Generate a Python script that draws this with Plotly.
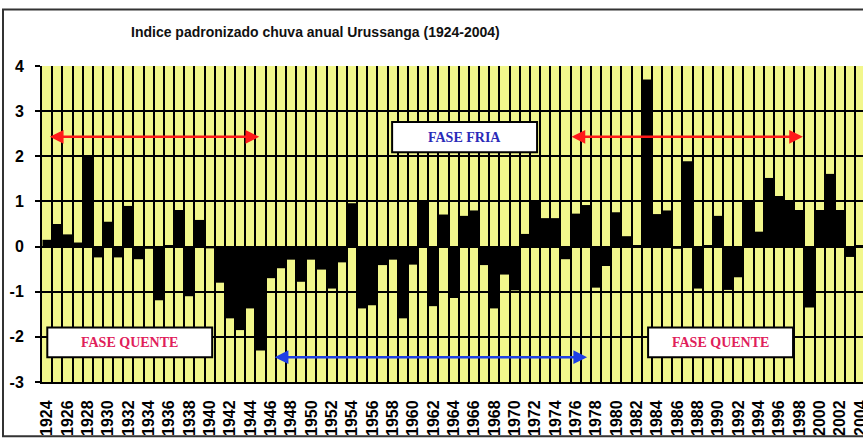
import plotly.graph_objects as go

years = list(range(1924, 2005))
values = [
    0.15, 0.50, 0.27, 0.09, 2.00, -0.24, 0.55, -0.24, 0.90, -0.28,   # 1924-1933
    -0.05, -1.19, 0.03, 0.81, -1.10, 0.59, -0.04, -0.80, -1.59, -1.85,  # 1934-1943
    -1.37, -2.30, -0.70, -0.48, -0.29, -0.78, -0.29, -0.51, -0.93, -0.35,  # 1944-1953
    0.96, -1.37, -1.30, -0.41, -0.29, -1.59, -0.40, 1.00, -1.32, 0.71,   # 1954-1963
    -1.14, 0.68, 0.80, -0.41, -1.37, -0.62, -0.97, 0.28, 1.00, 0.63,   # 1964-1973
    0.63, -0.28, 0.73, 0.92, -0.91, -0.43, 0.76, 0.23, 0.02, 3.70,     # 1974-1983
    0.72, 0.80, -0.05, 1.89, -0.93, 0.03, 0.68, -0.96, -0.68, 1.00,    # 1984-1993
    0.33, 1.52, 1.12, 1.00, 0.81, -1.35, 0.81, 1.61, 0.81, -0.23,      # 1994-2003
    0.03,                                                              # 2004
]
tick_years = list(range(1924, 2005, 2))
tick_labels = [str(y) for y in tick_years]
y_ticks = [4, 3, 2, 1, 0, -1, -2, -3]
title_text = "Indice padronizado chuva anual Urussanga (1924-2004)"

FONT = "Liberation Sans, Arial, sans-serif"
SERIF = "Liberation Serif, Times New Roman, serif"

fig = go.Figure(
    go.Bar(
        x=years,
        y=values,
        width=0.9,
        marker=dict(color="black", line=dict(width=0)),
        hoverinfo="x+y",
    )
)

boundaries = [y - 0.5 for y in years] + [years[-1] + 0.5]

fig.update_layout(
    width=863,
    height=438,
    margin=dict(l=42, r=0, t=66, b=56, autoexpand=False),
    paper_bgcolor="white",
    plot_bgcolor="#F2F78C",
    showlegend=False,
    bargap=0.1,
    font=dict(family=FONT, color="black"),
    xaxis=dict(
        range=[1923.5, 2004.26],
        tickmode="array",
        tickvals=tick_years,
        ticktext=tick_labels,
        tickangle=-90,
        tickfont=dict(family=FONT, size=16, weight=700, color="black"),
        ticklabeloverflow="allow",
        showgrid=False,
        zeroline=False,
        showline=True,
        linecolor="black",
        linewidth=2,
        ticks="",
        ticklabelstandoff=10,
        automargin=False,
        minor=dict(
            tickmode="array",
            tickvals=boundaries,
            showgrid=True,
            gridcolor="black",
            gridwidth=1.6,
            ticks="",
        ),
    ),
    yaxis=dict(
        range=[-3, 4],
        tickmode="array",
        tickvals=y_ticks,
        ticktext=[str(v) for v in y_ticks],
        tickfont=dict(family=FONT, size=16, weight=700, color="black"),
        showgrid=True,
        gridcolor="black",
        gridwidth=1.6,
        zeroline=True,
        zerolinecolor="black",
        zerolinewidth=2,
        showline=True,
        linecolor="black",
        linewidth=2,
        ticks="outside",
        ticklen=5,
        tickwidth=1.5,
        tickcolor="black",
        ticklabelstandoff=8,
        automargin=False,
    ),
)

# chart-area frame
fig.add_shape(type="rect", xref="paper", yref="paper",
              x0=-0.0475, x1=1.05, y0=-0.172, y1=1.179,
              line=dict(color="#333333", width=2), fillcolor="rgba(0,0,0,0)", layer="above")

# title
fig.add_annotation(text=title_text, xref="paper", yref="paper", x=0.333, y=1.108,
                   xanchor="center", yanchor="middle", showarrow=False,
                   font=dict(family=FONT, size=14, weight=700, color="#111111"))

# phase boxes
boxes = [
    (1957.94, 1972.2, 2.09, 2.76, "FASE FRIA", "#2A2AB8"),
    (1924.02, 1940.24, -2.45, -1.79, "FASE QUENTE", "#E0205A"),
    (1983.12, 1997.38, -2.45, -1.79, "FASE QUENTE", "#E0205A"),
]
for x0, x1, y0, y1, label, col in boxes:
    fig.add_shape(type="rect", xref="x", yref="y", x0=x0, x1=x1, y0=y0, y1=y1,
                  fillcolor="white", line=dict(color="black", width=2), layer="above")
    fig.add_annotation(text=label, xref="x", yref="y", x=(x0 + x1) / 2, y=(y0 + y1) / 2,
                       showarrow=False, xanchor="center", yanchor="middle",
                       font=dict(family=SERIF, size=14, weight=700, color=col))

# double-headed arrows
arrows = [
    (1924.12, 1944.87, 2.43, "#FF1A1A"),
    (1975.44, 1998.35, 2.43, "#FF1A1A"),
    (1946.24, 1977.12, -2.45, "#1E3FE6"),
]
for xa, xb, yy, col in arrows:
    fig.add_annotation(x=xb, y=yy, ax=xa, ay=yy, xref="x", yref="y", axref="x", ayref="y",
                       text="", showarrow=True, arrowhead=2, startarrowhead=2,
                       arrowside="end+start", arrowsize=1.1, startarrowsize=1.1,
                       arrowwidth=2.5, arrowcolor=col, standoff=0, startstandoff=0)

fig.write_html("out.html", config={"displayModeBar": False},
               post_script="document.body.style.margin='0';")
